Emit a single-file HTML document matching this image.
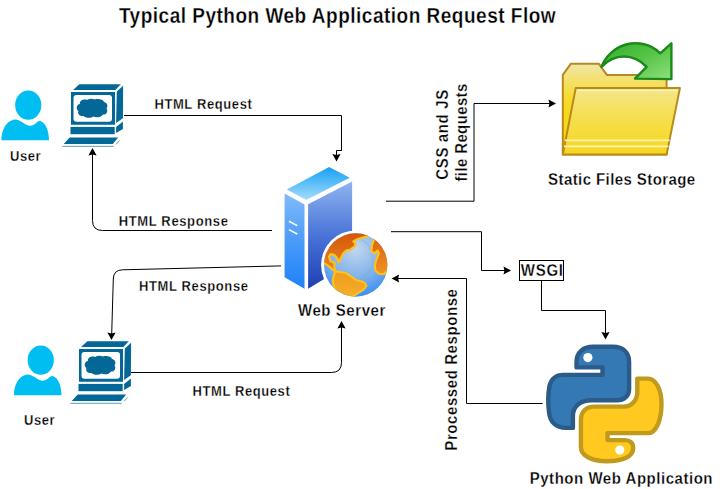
<!DOCTYPE html>
<html><head><meta charset="utf-8">
<style>
html,body{margin:0;padding:0;background:#fff;width:723px;height:489px;overflow:hidden}
svg{position:absolute;left:0;top:0;display:block}
text{font-family:"Liberation Sans",sans-serif;font-weight:bold;fill:#000;stroke:#fff;stroke-width:0.25px}
.t13{font-size:13px;letter-spacing:0.5px}
.t15{font-size:15px;letter-spacing:0.45px}
</style></head>
<body>
<svg width="723" height="489" viewBox="0 0 723 489">
<defs>
  <g id="user">
    <ellipse cx="28.25" cy="105.1" rx="13.1" ry="14.7" fill="#00BEF2"/>
    <path d="M1.4,140.3 C1.4,131 5.5,121 14.5,119.6 C20,119 25,125.8 30.2,125.8 C35,125.8 36.8,120.6 40.2,121 C46,123 49,131 49,140.3 Z" fill="#00BEF2"/>
  </g>
  <g id="pc" fill="#036897">
    <polygon points="73.05,90.1 79.3,84.15 120.8,84.15 115.4,90.1"/>
    <path d="M71,92 H115 V124.7 H71 Z M76.5,94.9 H109 Q112,94.9 112,97.9 V118.8 Q112,121.8 109,121.8 H76.5 Q73.5,121.8 73.5,118.8 V97.9 Q73.5,94.9 76.5,94.9 Z" fill-rule="evenodd"/>
    <path d="M80,104 C79,100.5 84,98.5 87,100 C89,98.5 93,98.5 95,99.5 C98,98.5 103,99 104,102 C107,102.5 108.5,106 106.5,108.5 C108.5,111 106.5,115 103,114.5 C101,117.5 96,118 93.5,116.5 C90.5,118.5 85.5,118 83.5,116 C80,116.5 77,114 78.5,111 C75.5,109 76.5,104.5 80,104 Z"/>
    <polygon points="116.8,91.6 123.1,85.8 122.9,118.2 116.1,123.1"/>
    <polygon points="116.1,126.9 122.9,121.4 122.9,128.9 116.1,133"/>
    <rect x="70.5" y="126.9" width="44.2" height="7.3"/>
    <polygon points="63.7,143.9 69.7,137.6 118.1,137.6 112.8,143.9"/>
    <rect x="62.4" y="145.8" width="51.3" height="1" fill="#5c9ec0"/>
    <path d="M116.1,144.4 L119.5,140.5" stroke="#5c9ec0" stroke-width="1" fill="none"/>
  </g>
  <linearGradient id="srvTop" x1="0" y1="0" x2="0" y2="1">
    <stop offset="0" stop-color="#14a0f6"/><stop offset="1" stop-color="#a6dcfb"/>
  </linearGradient>
  <linearGradient id="contA" x1="0" y1="0" x2="0" y2="1">
    <stop offset="0" stop-color="#d4500a"/><stop offset="1" stop-color="#e98a1c"/>
  </linearGradient>
  <linearGradient id="contB" x1="0" y1="0" x2="0" y2="1">
    <stop offset="0" stop-color="#d9580c"/><stop offset="1" stop-color="#ee9522"/>
  </linearGradient>
  <linearGradient id="contC" x1="0" y1="0" x2="0" y2="1">
    <stop offset="0" stop-color="#f09a1e"/><stop offset="1" stop-color="#f5b22c"/>
  </linearGradient>
  <clipPath id="globeClip"><circle cx="355.7" cy="265" r="31.7"/></clipPath>
  <linearGradient id="srvLeft" x1="0" y1="0" x2="0" y2="1">
    <stop offset="0" stop-color="#82bbf8"/><stop offset="0.6" stop-color="#4095f8"/><stop offset="1" stop-color="#1e82fa"/>
  </linearGradient>
  <linearGradient id="srvRight" x1="0" y1="0" x2="0" y2="1">
    <stop offset="0" stop-color="#8fb4ef"/><stop offset="0.5" stop-color="#4a74d8"/><stop offset="1" stop-color="#1d3fb3"/>
  </linearGradient>
  <radialGradient id="globe" cx="0.5" cy="0.25" r="0.85">
    <stop offset="0" stop-color="#c2d6ee"/><stop offset="0.55" stop-color="#7eb0ea"/><stop offset="1" stop-color="#1f82f6"/>
  </radialGradient>
  <linearGradient id="fold" x1="0" y1="0" x2="0" y2="1">
    <stop offset="0" stop-color="#f5e68c"/><stop offset="0.5" stop-color="#f6de48"/><stop offset="1" stop-color="#f8d61c"/>
  </linearGradient>
  <linearGradient id="foldBack" x1="0" y1="0" x2="0" y2="1">
    <stop offset="0" stop-color="#f0e6a8"/><stop offset="0.4" stop-color="#f7da28"/><stop offset="1" stop-color="#f8d400"/>
  </linearGradient>
  <linearGradient id="arr" x1="0" y1="0" x2="1" y2="1">
    <stop offset="0" stop-color="#34ad2c"/><stop offset="0.5" stop-color="#55c447"/><stop offset="1" stop-color="#90e07c"/>
  </linearGradient>
</defs>

<!-- Title -->
<text transform="translate(118.9,22.8) scale(1,1.14)" style="font-size:19px;letter-spacing:0.51px">Typical Python Web Application Request Flow</text>

<!-- users & pcs -->
<use href="#user"/>
<use href="#user" transform="translate(12.5,255)"/>
<use href="#pc"/>
<use href="#pc" transform="translate(8,257)"/>

<text transform="translate(10.1,160.5) scale(1,1.065)" style="font-size:13px;letter-spacing:0.55px">User</text>
<text transform="translate(24.0,424.7) scale(1,1.065)" style="font-size:13px;letter-spacing:0.6px">User</text>

<!-- edges -->
<g fill="none" stroke="#000" stroke-width="1">
  <path d="M124,115.5 H341.5 V150.5 H336.5 V156"/>
  <path d="M272,230.5 H102.5 Q92.5,230.5 92.5,220.5 V154"/>
  <path d="M281,265.9 L122.5,269.8 Q113.5,270 113.3,279 L111.7,334"/>
  <path d="M131,372.5 H331.5 Q341.5,372.5 341.5,362.5 V327"/>
  <path d="M386,201.2 H474 V103.5 H550"/>
  <path d="M391,231.7 H481.5 V270.5 H505"/>
  <path d="M541.5,280.5 V310.5 H605.5 V334"/>
  <path d="M542.6,403.5 H466.5 V278.5 H397"/>
</g>
<g fill="#000">
  <polygon points="336.50,161.60 332.40,154.10 336.50,155.00 340.60,154.10"/>
  <polygon points="92.50,148.00 96.60,155.50 92.50,154.60 88.40,155.50"/>
  <polygon points="111.50,340.00 107.40,332.50 111.50,333.40 115.60,332.50"/>
  <polygon points="341.50,321.00 345.60,328.50 341.50,327.60 337.40,328.50"/>
  <polygon points="556.00,103.50 548.50,107.60 549.40,103.50 548.50,99.40"/>
  <polygon points="511.00,270.50 503.50,274.60 504.40,270.50 503.50,266.40"/>
  <polygon points="605.50,339.50 601.40,332.00 605.50,332.90 609.60,332.00"/>
  <polygon points="391.60,278.50 399.10,274.40 398.20,278.50 399.10,282.60"/>
</g>

<text transform="translate(154.4,108.7) scale(1,1.065)" style="font-size:13px;letter-spacing:0.62px">HTML Request</text>
<text transform="translate(118.7,225.8) scale(1,1.065)" style="font-size:13px;letter-spacing:0.65px">HTML Response</text>
<text transform="translate(139.0,290.9) scale(1,1.065)" style="font-size:13px;letter-spacing:0.63px">HTML Response</text>
<text transform="translate(192.5,395.5) scale(1,1.065)" style="font-size:13px;letter-spacing:0.6px">HTML Request</text>

<!-- server -->
<g>
  <polygon points="284.6,188.6 329.1,166.2 352.3,178 352.3,262 308.1,289 304.5,289 284.6,277.5" fill="#fff"/>
  <polygon points="286.9,189.4 329.1,166.9 349.8,177.7 306.2,200.1" fill="url(#srvTop)"/>
  <polygon points="284.6,193.6 304.5,204.4 304.5,288.8 284.6,277.3" fill="url(#srvLeft)"/>
  <polygon points="308.1,204.2 352.1,181.6 352.1,262 308.1,288.8" fill="url(#srvRight)"/>
  <path d="M289,221.3 L297.2,225.6 M289,229.6 L297.2,234" stroke="#fff" stroke-width="1.6"/>
  <circle cx="355.7" cy="265" r="34.6" fill="#fff"/>
  <circle cx="355.7" cy="265" r="31.7" fill="url(#globe)"/>
  <circle cx="351" cy="259" r="22" fill="none" stroke="#7da6d6" stroke-opacity="0.25" stroke-width="2"/>
  <g stroke="#fcc21b" stroke-width="2.1" stroke-linejoin="round" clip-path="url(#globeClip)">
    <path fill="url(#contA)" d="M324.3,263.1 L328.5,266 L332.6,269.6 L335.1,271.4 L334.3,266.4 L334.7,263.1 L332.6,262.3 L330.2,260.6 L329,256.5 L330.6,254.1 L334.3,254.9 L337.1,258.2 L338.8,262.3 L340.4,259 L343.3,253.3 L346.5,250.4 L349.8,249.8 L354.7,246.3 L355.4,243.5 L353.3,241.4 L356.8,239.3 L363.7,237.3 L369.3,235.9 L372,230 L320,230 L318,263.1 Z"/>
    <path fill="url(#contB)" d="M374.2,239.3 L372.1,244.9 L371.4,251.2 L374.8,253.3 L377.6,250.5 L379,253.3 L376.5,259.5 L374.8,265.1 L375.5,270.6 L379,273.8 L383.9,274.1 L386.9,271.3 L392,272 L392,232 L376,232 Z"/>
    <path fill="url(#contC)" d="M335.1,271.4 L338,271.6 L345.7,273 L350.6,276.2 L356.4,280.3 L362,281.5 L365.1,283.2 L366.5,285.9 L363.7,289.4 L359.5,292.2 L352.6,296.6 L352,302 L330,302 L334.3,288.4 L332.6,281.1 L333.5,277 Z"/>
  </g>
</g>
<text transform="translate(298.0,315.5) scale(1,1.11)" style="font-size:15px;letter-spacing:0.57px">Web Server</text>

<!-- folder -->
<g stroke="#b88a1e" stroke-width="2" stroke-linejoin="round">
  <polygon points="562.8,74.9 570.9,63.7 598.8,63.7 606.8,74.9 666.6,74.9 666.6,154.6 562.8,154.6" fill="url(#foldBack)"/>
  <path d="M601.5,66.8 C605,57 614,48 626,44.5 C638,41.5 651,44 660.2,53.3 L671.4,43.3 L671.4,79.1 L635,78.6 L646.7,66.8 C641,61 633,56.5 624,56.5 C615,56.5 607,61 601.5,66.8 Z" fill="url(#arr)" stroke="#1b8a1b" stroke-width="2.4" stroke-linejoin="round"/>
  <polygon points="575.7,88.1 679.9,88.1 666.6,154.6 562.8,154.6" fill="url(#fold)"/>
  <path d="M577.5,90.6 H677" stroke="#fbf2b8" stroke-width="1.2"/>
  <path d="M565,140.3 H669.5 M564,146.3 H668.3" stroke="#fbf3b8" stroke-width="1.8"/>
</g>
<text transform="translate(548.1,185.4) scale(1,1.11)" style="font-size:15px;letter-spacing:0.42px">Static Files Storage</text>

<!-- WSGI -->
<rect x="519.5" y="260.5" width="44" height="20" fill="#fff" stroke="#000" stroke-width="1"/>
<text transform="translate(520.8,275.6) scale(1,1.07)" style="font-size:15px;letter-spacing:0.75px">WSGI</text>

<!-- rotated labels -->
<text transform="translate(448.2,179.7) rotate(-90) scale(1,1.1)" style="font-size:15px;letter-spacing:0.64px">CSS and JS</text>
<text transform="translate(467,181.5) rotate(-90) scale(1,1.1)" style="font-size:15px;letter-spacing:0.38px">file Requests</text>
<text transform="translate(457,450.7) rotate(-90) scale(1,1.1)" style="font-size:15px;letter-spacing:0.59px">Processed Response</text>

<!-- python -->
<g stroke-width="4.4" stroke-linejoin="round">
  <path fill="#3579b4" stroke="#2a5b89" d="M576.5,367.4 L576.5,362 C576.5,352.5 583,346.8 593,346.8 L613,346.8 C623,346.8 629.1,352.5 629.1,362 L629.1,389 C629.1,396 624,400.3 617,400.3 L591,400.3 C581,400.3 572.9,406 572.9,416 L572.9,427.9 L566,427.9 C556,427.9 550,422 549,412 C548,404 548,394 549.5,386 C551,379 556,374.9 563,374.9 L602.5,374.9 L602.5,367.4 Z"/>
  <circle cx="587.9" cy="357.6" r="4.6" fill="#fff" stroke="none"/>
  <path fill="#ffc91f" stroke="#c09a1c" d="M607.5,433.1 L607.5,440.1 L625,440.1 C630,440.1 633.2,443 633.2,448 C633.2,457 622,461.2 606.8,461.2 C592,461.2 580.9,456 580.9,447 L580.9,420 C580.9,412 586,406.6 594,406.6 L624,406.6 C632,406.6 637.3,400 637.3,392 L637.3,378.6 L648,378.6 C656,378.6 661.5,390 661.5,404 C661.5,418 657,433.1 648,433.1 Z"/>
  <circle cx="619.8" cy="450.1" r="4.6" fill="#fff" stroke="none"/>
</g>
<text transform="translate(529.7,483.7) scale(1,1.11)" style="font-size:15px;letter-spacing:0.54px">Python Web Application</text>
</svg>
</body></html>
